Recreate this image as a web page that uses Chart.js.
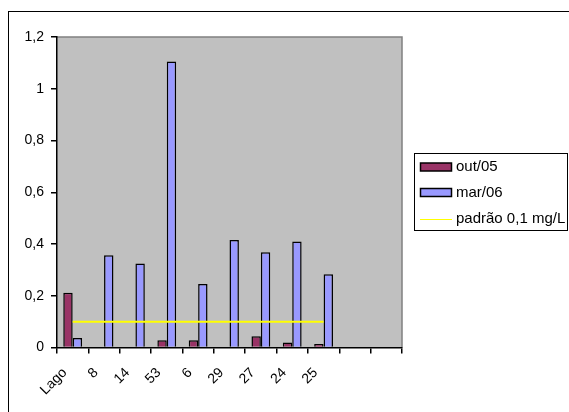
<!doctype html>
<html lang="pt">
  <head>
    <meta charset="utf-8">
    <title>out/05 x mar/06</title>
    <script src="https://cdn.jsdelivr.net/npm/chart.js"></script>
    <style>
      html, body { margin: 0; padding: 0; background: #fff; overflow: hidden; }
      #wrap { position: relative; width: 569px; height: 412px; }
      #frame { position: absolute; left: 8px; top: 11px; width: 700px; height: 600px; border: 1.5px solid #000; box-sizing: border-box; pointer-events: none; }
    </style>
  </head>
  <body>
<div id="wrap">
  <canvas id="chart" width="569" height="412"></canvas>
  <div id="frame"></div>
</div>

<script>
// pontos de coleta (as duas ultimas categorias ficam vazias)
var pontos = ["Lago", "8", "14", "53", "6", "29", "27", "24", "25", "", ""];
var out05 = [0.212, null, null, 0.028, 0.028, null, 0.043, 0.019, 0.014, null, null];
var mar06 = [0.037, 0.357, 0.325, 1.105, 0.245, 0.415, 0.368, 0.41, 0.283, null, null];
var padrao = [0.1, 0.1, 0.1, 0.1, 0.1, 0.1, 0.1, 0.1, 0.1, null, null];
var yTicks = [0, 0.2, 0.4, 0.6, 0.8, 1, 1.2];

var FONT = "'Liberation Sans', Arial, sans-serif";

// fundo cinza da area do grafico
var plotBg = {
  id: "plotBg",
  beforeDraw: function(chart) {
    var c = chart.ctx, a = chart.chartArea;
    c.save();
    c.fillStyle = "#C0C0C0";
    c.fillRect(a.left, a.top, a.right - a.left, a.bottom - a.top);
    c.strokeStyle = "#808080";
    c.lineWidth = 1.5;
    c.beginPath();
    c.moveTo(a.left, a.top);
    c.lineTo(a.right, a.top);
    c.lineTo(a.right, a.bottom);
    c.stroke();
    c.restore();
  }
};

// legenda no estilo excel
var boxLegend = {
  id: "boxLegend",
  afterDraw: function(chart) {
    var c = chart.ctx;
    var x = 414.5, y = 153.5, w = 153, h = 77;
    c.save();
    c.fillStyle = "#fff";
    c.fillRect(x, y, w, h);
    c.strokeStyle = "#000";
    c.lineWidth = 1;
    c.strokeRect(x, y, w, h);
    c.font = "15px " + FONT;
    c.textBaseline = "middle";
    var rows = [167, 192.5, 219];
    chart.data.datasets.forEach(function(ds, i) {
      var cy = rows[i];
      if (ds.type === "line") {
        c.strokeStyle = ds.borderColor;
        c.lineWidth = 1;
        c.beginPath();
        c.moveTo(420, cy + 0.5);
        c.lineTo(452, cy + 0.5);
        c.stroke();
      } else {
        c.fillStyle = ds.backgroundColor;
        c.fillRect(420.5, cy - 4, 31, 8);
        c.strokeStyle = "#000";
        c.lineWidth = 1.5;
        c.strokeRect(420.5, cy - 4, 31, 8);
      }
      c.fillStyle = "#000";
      c.fillText(ds.label, 456, cy);
    });
    c.restore();
  }
};

new Chart(document.getElementById("chart"), {
  type: "bar",
  data: {
    labels: pontos,
    datasets: [
      {
        label: "out/05",
        data: out05,
        backgroundColor: "#993366",
        borderColor: "#000",
        borderWidth: 1.5,
        categoryPercentage: 0.6,
        barPercentage: 1.0,
        order: 2
      },
      {
        label: "mar/06",
        data: mar06,
        backgroundColor: "#9999FF",
        borderColor: "#000",
        borderWidth: 1.5,
        categoryPercentage: 0.6,
        barPercentage: 1.0,
        order: 2
      },
      {
        type: "line",
        label: "padrão 0,1 mg/L",
        data: padrao,
        borderColor: "#FFFF00",
        borderWidth: 2,
        pointRadius: 0,
        fill: false,
        order: 1
      }
    ]
  },
  options: {
    responsive: false,
    animation: false,
    layout: { padding: { top: 37, right: 167, left: 0, bottom: 0 } },
    plugins: {
      legend: { display: false },
      tooltip: { enabled: false }
    },
    scales: {
      x: {
        offset: true,
        grid: { offset: true, drawOnChartArea: false, color: "#000", tickLength: 6, lineWidth: 1.5 },
        border: { color: "#000", width: 1.5 },
        ticks: { color: "#000", font: { family: FONT, size: 14 }, minRotation: 45, maxRotation: 45, autoSkip: false, padding: 11, labelOffset: -8 },
        afterFit: function(s) { s.height = 64.5; }
      },
      y: {
        min: 0,
        max: 1.2,
        grid: { drawOnChartArea: false, color: "#000", tickLength: 6, lineWidth: 1.5 },
        border: { color: "#000", width: 1.5 },
        afterBuildTicks: function(s) { s.ticks = yTicks.map(function(v) { return { value: v }; }); },
        ticks: {
          color: "#000",
          font: { family: FONT, size: 14 },
          padding: 7,
          callback: function(v) { return String(+v.toFixed(1)).replace(".", ","); }
        },
        afterFit: function(s) { s.width = 57; }
      }
    }
  },
  plugins: [plotBg, boxLegend]
});
</script>
  </body>
</html>
